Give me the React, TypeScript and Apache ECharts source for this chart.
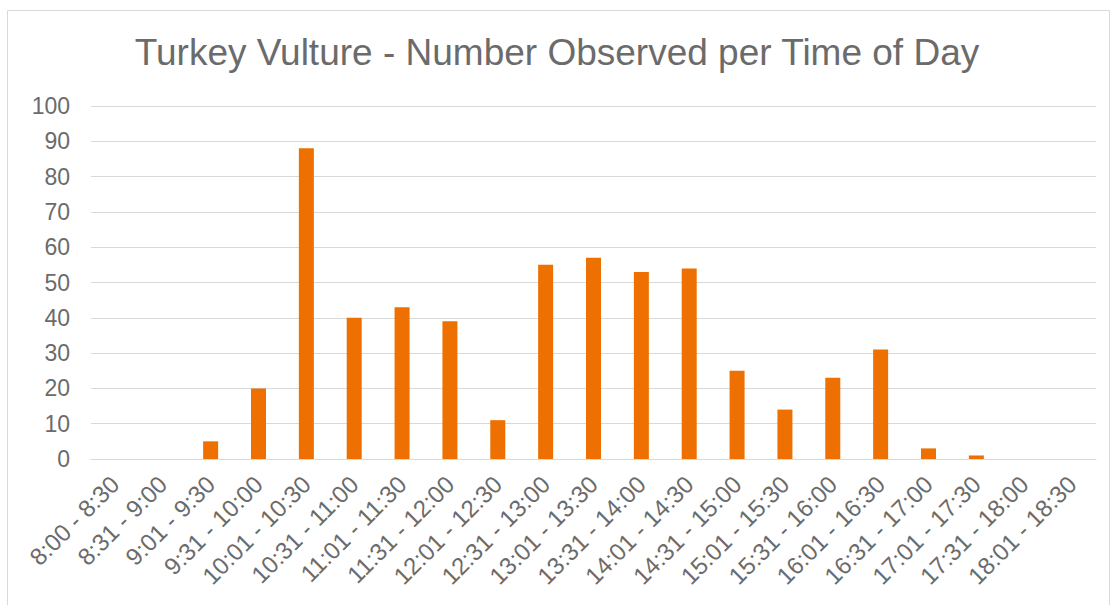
import React, { useEffect, useRef } from "react";
import * as echarts from "echarts";

const categories = [
  "8:00 - 8:30", "8:31 - 9:00", "9:01 - 9:30", "9:31 - 10:00", "10:01 - 10:30",
  "10:31 - 11:00", "11:01 - 11:30", "11:31 - 12:00", "12:01 - 12:30", "12:31 - 13:00",
  "13:01 - 13:30", "13:31 - 14:00", "14:01 - 14:30", "14:31 - 15:00", "15:01 - 15:30",
  "15:31 - 16:00", "16:01 - 16:30", "16:31 - 17:00", "17:01 - 17:30", "17:31 - 18:00",
  "18:01 - 18:30",
];
const counts = [0, 0, 5, 20, 88, 40, 43, 39, 11, 55, 57, 53, 54, 25, 14, 23, 31, 3, 1, 0, 0];
const titleText = "Turkey Vulture - Number Observed per Time of Day";

export default function App() {
  const ref = useRef<HTMLDivElement>(null);
  useEffect(() => {
    if (!ref.current) return;
    const chart = echarts.init(ref.current, null, { renderer: "svg" });
    const font = "Liberation Sans, Arial, sans-serif";
    chart.setOption({
      animation: false,
      backgroundColor: "#ffffff",
      textStyle: { fontFamily: font },
      graphic: [
        {
          type: "rect",
          shape: { x: 7.5, y: 10.5, width: 1102, height: 600 },
          style: { fill: "none", stroke: "#d9d9d9", lineWidth: 1 },
          silent: true,
        },
      ],
      title: {
        text: titleText,
        left: "center",
        top: 29,
        textStyle: { fontSize: 37, fontWeight: "normal", color: "#6b6b6b", fontFamily: font },
      },
      grid: { left: 91, right: 18, top: 106, bottom: 146, containLabel: false },
      xAxis: {
        type: "category",
        data: categories,
        axisLine: { show: true, lineStyle: { color: "#d9d9d9", width: 1 } },
        axisTick: { show: false },
        axisLabel: { rotate: 45, fontSize: 24, color: "#6b6b6b", margin: 21, interval: 0, fontFamily: font },
      },
      yAxis: {
        type: "value",
        min: 0,
        max: 100,
        interval: 10,
        axisLine: { show: false },
        axisTick: { show: false },
        axisLabel: { fontSize: 23, color: "#6b6b6b", margin: 21, fontFamily: font },
        splitLine: { lineStyle: { color: "#d9d9d9", width: 1 } },
      },
      series: [
        {
          type: "bar",
          data: counts,
          barWidth: 15,
          itemStyle: { color: "#ed7000" },
        },
      ],
    });
    return () => chart.dispose();
  }, []);
  return <div ref={ref} style={{ position: "fixed", left: 0, top: 0, width: 1114, height: 605 }} />;
}
